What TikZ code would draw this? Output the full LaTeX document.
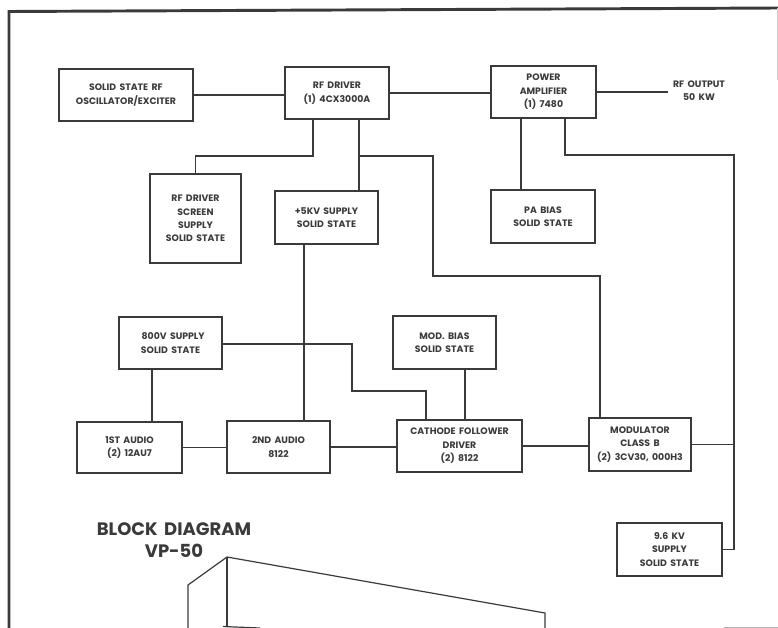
\documentclass[tikz,border=0pt]{standalone}
\usepackage{fontspec}
\setmainfont{Poppins}[WordSpace=1.7]
\definecolor{inkgrey}{HTML}{3A3A3A}
\tikzset{every picture/.style={line width=0.75pt}}
\tikzset{
	blocktext/.style={inner sep=0pt,outer sep=0pt,align=center,text=inkgrey,font=\fontsize{7}{10.1}\selectfont\bfseries,execute at begin node={\rule{0pt}{9pt}}},
	block/.style={blocktext,draw=inkgrey,line width=1.15pt},
	wire/.style={draw=inkgrey,line width=1.1pt},
	framing/.style={draw=inkgrey,line width=2.2pt},
	cabinet/.style={draw=inkgrey,line width=0.9pt},
}

\begin{document}
\begin{tikzpicture}[x=0.75pt,y=0.75pt,yscale=-1,xscale=1]
	\useasboundingbox (0,0) rectangle (778,628);

	%Outer frame
	\draw [framing] (778,8) -- (9,11.5) -- (9,628) ;
	\draw [draw=gray!40,line width=0.75pt] (777.5,8) -- (777.5,80) ;

	% Text Node
	\node [block,minimum width=100.5pt,minimum height=39pt] (osc) at (126,95) {SOLID STATE RF\\OSCILLATOR/EXCITER};
	% Text Node
	\node [block,minimum width=78pt,minimum height=39pt] (drv) at (337,93) {RF DRIVER\\(1) 4CX3000A};
	% Text Node
	\node [block,minimum width=78.75pt,minimum height=39pt] (pa) at (543.5,92) {POWER\\AMPLIFIER\\(1) 7480};
	% Text Node
	\node [blocktext] (rfout) at (699,90.5) {RF OUTPUT\\50 KW};
	% Text Node
	\node [block,minimum width=68.25pt,minimum height=66.75pt] (scr) at (195.5,218.5) {RF DRIVER\\SCREEN\\SUPPLY\\SOLID STATE};
	% Text Node
	\node [block,minimum width=77.25pt,minimum height=39.75pt] (hv) at (326.5,217.5) {+5KV SUPPLY\\SOLID STATE};
	% Text Node
	\node [block,minimum width=78pt,minimum height=39.75pt] (pab) at (543,216.5) {PA BIAS\\SOLID STATE};
	% Text Node
	\node [block,minimum width=77.25pt,minimum height=39pt] (sup) at (170.5,343) {\hspace*{4pt}800V SUPPLY\\SOLID STATE};
	% Text Node
	\node [block,minimum width=77.25pt,minimum height=39.75pt] (mbias) at (444.5,342.5) {MOD. BIAS\\SOLID STATE};
	% Text Node
	\node [block,minimum width=78.75pt,minimum height=38.25pt] (aud) at (129.5,447.5) {1ST AUDIO\\(2) 12AU7};
	% Text Node
	\node [block,minimum width=77.25pt,minimum height=39pt] (audb) at (278.5,447) {2ND AUDIO\\8122};
	% Text Node
	\node [block,minimum width=93.75pt,minimum height=39pt] (cath) at (459.5,446) {CATHODE FOLLOWER\\DRIVER\\(2) 8122};
	% Text Node
	\node [block,minimum width=76.5pt,minimum height=39.75pt] (mod) at (640,444.5) {MODULATOR\\CLASS B\\(2) 3CV30, 000H3};
	% Text Node
	\node [block,minimum width=78.75pt,minimum height=39.75pt] (hvb) at (669.5,549.5) {9.6 KV\\SUPPLY\\SOLID STATE};
	% Text Node
	\node [inner sep=0pt,outer sep=0pt,align=center,text=inkgrey,font=\fontsize{13.5}{16.5}\selectfont\bfseries] (title) at (174,540.5) {BLOCK DIAGRAM\\VP-50};

	%Bend points
	\coordinate (drvbend) at (313,156) ;
	\coordinate (drvjoin) at (359,156) ;
	\coordinate (modbend) at (433,276) ;
	\coordinate (hvline) at (304,300) ;
	\coordinate (modline) at (600,276) ;
	\coordinate (sideline) at (734,155) ;
	\coordinate (pabend) at (565,155) ;
	\coordinate (supbend) at (352,344) ;
	\coordinate (cathbend) at (426,391) ;

	%Straight Lines
	\draw [wire] (osc.east) -- (osc.east -| drv.west) ;
	\draw [wire] (drv.east) -- (drv.east -| pa.west) ;
	\draw [wire] (pa.east) -- ++(72,0) ;
	\draw [wire] (drvbend |- drv.south) -- (drvbend) -| (scr.north) ;
	\draw [wire] (drvjoin |- drv.south) -- (drvjoin |- hv.north) ;
	\draw [wire] (drvjoin) -| (modbend) -| (modline |- mod.north) ;
	\draw [wire] (pab.north -| 521,0) -- (521,0 |- pa.south) ;
	\draw [wire] (pabend |- pa.south) |- (sideline) |- (hvb.east) ;
	\draw [wire] (mod.east) -- (mod.east -| sideline) ;
	\draw [wire] (hvline |- hv.south) -- (hvline |- audb.north) ;
	\draw [wire] (sup.east |- supbend) -| (cathbend -| supbend) -| (cathbend |- cath.north) ;
	\draw [wire] (aud.north -| 152,0) -- (152,0 |- sup.south) ;
	\draw [wire] (mbias.south -| 465,0) -- (465,0 |- cath.north) ;
	\draw [wire] (aud.east) -- (aud.east -| audb.west) ;
	\draw [wire] (audb.east) -- (audb.east -| cath.west) ;
	\draw [wire] (cath.east) -- (cath.east -| mod.west) ;

	%Cabinet outline
	\draw [cabinet] (188,628) -- (188,585) -- (227,557) -- (545,613) -- (545,628) ;
	\draw [cabinet] (227,557) -- (227,626) ;
	\draw [cabinet] (223,626.5) -- (260,628) ;
	\draw [draw=gray!60,line width=0.75pt] (724,627.5) -- (778,627.5) ;
\end{tikzpicture}
\end{document}
